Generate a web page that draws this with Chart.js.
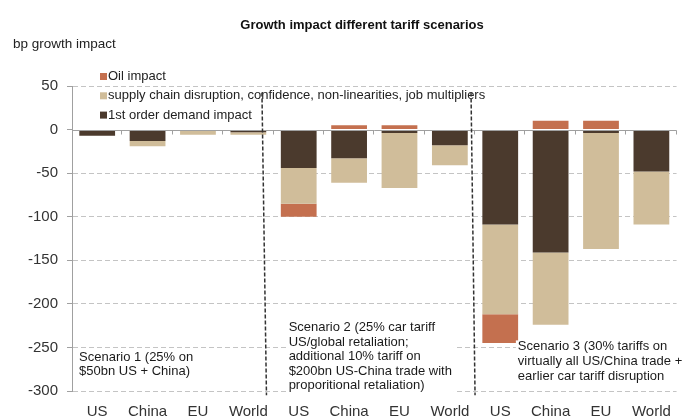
<!DOCTYPE html>
<html>
<head>
<meta charset="utf-8">
<script src="https://cdn.jsdelivr.net/npm/chart.js@4.4.0/dist/chart.umd.min.js"></script>
<style>
  html, body { margin: 0; padding: 0; background: #fff; }
  #wrap { width: 683px; height: 419px; }
</style>
</head>
<body>
<div id="wrap"><canvas id="myChart" width="683" height="419"></canvas></div>
<script>
// Growth impact of the tariff scenarios, in bp.

var labels = ['US', 'China', 'EU', 'World', 'US', 'China', 'EU', 'World', 'US', 'China', 'EU', 'World'];
var demand = [-7, -13, 0, -3, -44, -33, -4, -18, -109, -141, -4, -48];
var supply = [0, -6, -6, -3, -41, -28, -63, -23, -103, -83, -133, -61];
var oil = [0, 0, 0, 0, -15, 5, 5, 0, -33, 10, 10, 0];
var yTicks = [50, 0, -50, -100, -150, -200, -250, -300];

var seriesNames = ['1st order demand impact', 'supply chain disruption, confidence, non-linearities, job multipliers', 'Oil impact'];
var seriesColors = ['#4b3a2d', '#d0bd9a', '#c4704f'];

var titleText = 'Growth impact different tariff scenarios';
var unitText = 'bp growth impact';
var notes = [
    ['Scenario 1 (25% on', '$50bn US + China)'],
    ['Scenario 2 (25% car tariff', 'US/global retaliation;', 'additional 10% tariff on', '$200bn US-China trade with', 'proporitional retaliation)'],
    ['Scenario 3 (30% tariffs on', 'virtually all US/China trade +', 'earlier car tariff disruption']
];

var FONT = '"Liberation Sans", Arial, sans-serif';

// where the notes and the scenario separators sit, in category / value units
var notePos = [{ i: -0.36, v: -261.5, lh: 14.4 }, { i: 3.8, v: -227.5, lh: 14.5 }, { i: 8.35, v: -249.4, lh: 15 }];
var separators = [{ i0: 3.27, i1: 3.36 }, { i0: 7.42, i1: 7.5 }];

var decor = {
    id: 'decor',
    afterDatasetsDraw(chart) {
        var ctx = chart.ctx;
        var x = chart.scales.x, y = chart.scales.y;
        var step = x.getPixelForValue(1) - x.getPixelForValue(0);
        var left = chart.chartArea.left, right = chart.chartArea.right;
        var y0 = Math.round(y.getPixelForValue(0)) + 0.5;

        // category axis at zero with small ticks
        ctx.save();
        ctx.strokeStyle = '#a0a0a0';
        ctx.lineWidth = 1;
        ctx.beginPath();
        ctx.moveTo(left, y0);
        ctx.lineTo(right, y0);
        for (var k = 1; k <= labels.length; k++) {
            var tx = Math.round(left + k * step) - 0.5;
            ctx.moveTo(tx, y0);
            ctx.lineTo(tx, y0 + 4);
        }
        ctx.stroke();
        ctx.restore();
    },
    afterDraw(chart) {
        var ctx = chart.ctx;
        var x = chart.scales.x, y = chart.scales.y;
        var step = x.getPixelForValue(1) - x.getPixelForValue(0);
        var xAt = i => x.getPixelForValue(0) + i * step;

        ctx.save();
        ctx.textBaseline = 'middle';

        // title and unit
        ctx.fillStyle = '#111';
        ctx.font = 'bold 13px ' + FONT;
        ctx.textAlign = 'center';
        ctx.fillText(titleText, 362, 25);
        ctx.font = '13.5px ' + FONT;
        ctx.textAlign = 'left';
        ctx.fillStyle = '#222';
        ctx.fillText(unitText, 13, 44);

        // legend, reversed
        ctx.font = '13px ' + FONT;
        var ds = chart.data.datasets;
        for (var r = 0; r < ds.length; r++) {
            var d = ds[ds.length - 1 - r];
            var ly = 76.5 + r * 19.3;
            ctx.fillStyle = d.backgroundColor;
            ctx.fillRect(100, ly - 3.5, 7, 7);
            ctx.fillStyle = '#222';
            ctx.fillText(d.label, 108, ly);
        }

        // scenario notes
        ctx.font = '13px ' + FONT;
        notes.forEach((lines, n) => {
            var p = notePos[n];
            var nx = xAt(p.i), ny = y.getPixelForValue(p.v);
            var w = Math.max.apply(null, lines.map(s => ctx.measureText(s).width));
            ctx.fillStyle = '#fff';
            ctx.fillRect(nx - 2, ny - p.lh / 2 + 1, w + 4, p.lh * lines.length);
            ctx.fillStyle = '#1a1a1a';
            lines.forEach((s, j) => ctx.fillText(s, nx, ny + j * p.lh));
        });

        // scenario separators
        ctx.strokeStyle = '#333';
        ctx.lineWidth = 1.5;
        ctx.setLineDash([4, 2]);
        separators.forEach(s => {
            ctx.beginPath();
            ctx.moveTo(xAt(s.i0), y.getPixelForValue(42.5));
            ctx.lineTo(xAt(s.i1), y.getPixelForValue(-305));
            ctx.stroke();
        });
        ctx.restore();
    }
};

const config = {
    type: 'bar',
    data: {
        labels: labels,
        datasets: [
            { label: seriesNames[0], data: demand, backgroundColor: seriesColors[0] },
            { label: seriesNames[1], data: supply, backgroundColor: seriesColors[1] },
            { label: seriesNames[2], data: oil, backgroundColor: seriesColors[2] }
        ]
    },
    options: {
        responsive: false,
        animation: false,
        devicePixelRatio: 1,
        layout: { padding: { top: 86, right: 4, bottom: 0, left: 0 } },
        datasets: { bar: { barPercentage: 0.71, categoryPercentage: 1, borderWidth: 0 } },
        scales: {
            x: {
                stacked: true,
                grid: { display: false, drawTicks: false },
                border: { display: false },
                ticks: { color: '#333', font: { family: FONT, size: 15 }, padding: 12, maxRotation: 0 },
                afterFit: s => { s.height = 28; }
            },
            y: {
                stacked: true,
                min: yTicks[yTicks.length - 1],
                max: yTicks[0],
                ticks: { stepSize: 50, color: '#333', font: { family: FONT, size: 15 }, padding: 9 },
                grid: {
                    color: ctx => ctx.tick && ctx.tick.value === 0 ? 'rgba(0,0,0,0)' : '#c4c4c4',
                    tickColor: '#a0a0a0',
                    tickLength: 5,
                    tickBorderDash: []
                },
                border: { display: true, color: '#a0a0a0', width: 1, dash: [5, 3] },
                afterFit: s => { s.width = 72; }
            }
        },
        plugins: {
            legend: { display: false },
            title: { display: false },
            tooltip: { enabled: false }
        }
    },
    plugins: [decor]
};

var myChart = new Chart(document.getElementById('myChart'), config);
</script>
</body>
</html>
